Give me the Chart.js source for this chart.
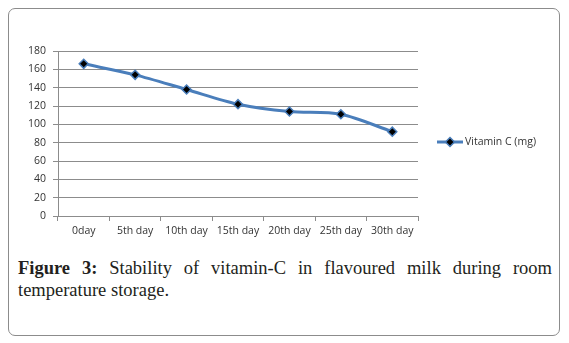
<!DOCTYPE html>
<html>
<head>
<meta charset="utf-8">
<script src="https://cdn.jsdelivr.net/npm/chart.js@4/dist/chart.umd.min.js"></script>
<style>
  html, body { margin: 0; padding: 0; background: #fff; }
  body { width: 569px; height: 343px; position: relative; overflow: hidden; }
  #box { position: absolute; left: 8px; top: 8px; width: 552px; height: 328px; border: 1px solid #8c8c8c; border-radius: 7px; box-sizing: border-box; }
  #wrap { position: absolute; left: 0; top: 0; width: 569px; height: 250px; }
  #caption { position: absolute; left: 18px; top: 257px; width: 534px; font-family: "Liberation Serif", serif; font-size: 18.5px; line-height: 22px; color: #231f20; text-align: justify; }
  #caption b { font-weight: bold; }
</style>
</head>
<body>
<div id="box"></div>
<div id="wrap"><canvas id="c" width="569" height="250"></canvas></div>
<div id="caption"><b>Figure 3:</b> Stability of vitamin-C in flavoured milk during room temperature storage.</div>
<script>
const categories = ["0day", "5th day", "10th day", "15th day", "20th day", "25th day", "30th day"];
const vitaminC = [166, 154, 138, 122, 114, 111, 92];
const seriesName = "Vitamin C (mg)";
const yTicks = [0, 20, 40, 60, 80, 100, 120, 140, 160, 180];

const lineColor = "#4a7ebb";
const fontFam = "'Open Sans', 'DejaVu Sans', sans-serif";

const legendPlugin = {
  id: 'customLegend',
  afterDraw(chart) {
    const ctx = chart.ctx;
    const ds = chart.data.datasets[0];
    const y = 142, x0 = 437, x1 = 463, xm = 450;
    ctx.save();
    ctx.strokeStyle = ds.borderColor;
    ctx.lineWidth = 3;
    ctx.beginPath(); ctx.moveTo(x0, y); ctx.lineTo(x1, y); ctx.stroke();
    ctx.fillStyle = ds.pointBackgroundColor;
    ctx.strokeStyle = ds.pointBorderColor;
    ctx.lineWidth = 1.5;
    ctx.beginPath();
    ctx.moveTo(xm, y - 4.5); ctx.lineTo(xm + 4.5, y); ctx.lineTo(xm, y + 4.5); ctx.lineTo(xm - 4.5, y); ctx.closePath();
    ctx.fill(); ctx.stroke();
    ctx.fillStyle = "#333";
    ctx.font = "10.5px " + fontFam;
    ctx.textBaseline = "middle";
    ctx.textAlign = "left";
    ctx.fillText(ds.label, 465, y + 0.5);
    ctx.restore();
  }
};

new Chart(document.getElementById('c'), {
  type: 'line',
  data: {
    labels: categories,
    datasets: [{
      label: seriesName,
      data: vitaminC,
      borderColor: lineColor,
      borderWidth: 3,
      tension: 0.3,
      pointStyle: 'rectRot',
      pointRadius: 4.5,
      pointBackgroundColor: '#000',
      pointBorderColor: lineColor,
      pointBorderWidth: 1.5,
      fill: false
    }]
  },
  options: {
    responsive: false,
    animation: false,
    layout: { padding: { left: 0, right: 151, top: 51, bottom: 0 } },
    plugins: { legend: { display: false }, tooltip: { enabled: false } },
    scales: {
      x: {
        offset: true,
        grid: { display: true, drawOnChartArea: false, offset: true, color: '#8c8c8c', tickLength: 5, tickWidth: 1 },
        border: { color: '#8c8c8c', width: 1 },
        ticks: { color: '#333', font: { family: fontFam, size: 10.5 }, padding: 4, maxRotation: 0, autoSkip: false },
        afterFit(scale) { scale.height = 34; }
      },
      y: {
        min: 0, max: 180,
        afterBuildTicks(scale) { scale.ticks = yTicks.map(v => ({ value: v })); },
        grid: { color: '#8c8c8c', lineWidth: 1, tickLength: 5 },
        border: { color: '#8c8c8c', width: 1 },
        ticks: { color: '#333', font: { family: fontFam, size: 10.5 }, padding: 7 },
        afterFit(scale) { scale.width = 58; }
      }
    }
  },
  plugins: [legendPlugin]
});
</script>
</body>
</html>
